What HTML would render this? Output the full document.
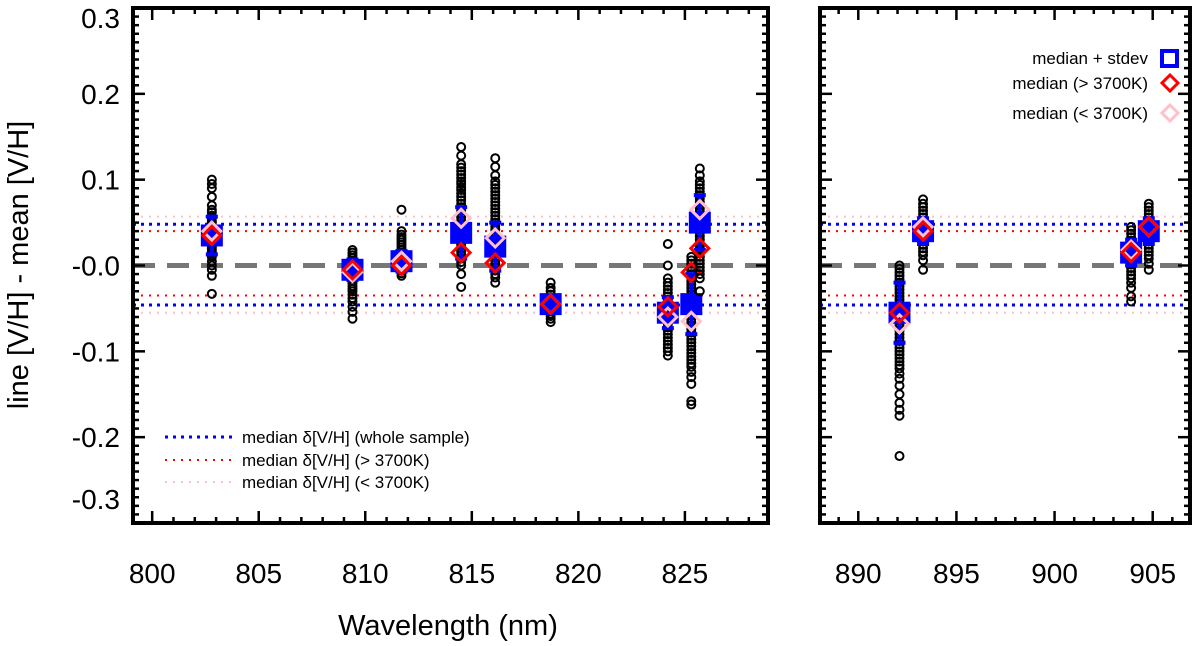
<!DOCTYPE html>
<html><head><meta charset="utf-8"><style>
html,body{margin:0;padding:0;background:#fff;}
svg{display:block;font-family:"Liberation Sans",sans-serif;}
</style></head><body>
<svg id="chart" width="1200" height="646" viewBox="0 0 1200 646">
<g id="grid"></g>
<g id="marks"></g>
<g id="axes"></g>
<text x="448" y="635" text-anchor="middle" font-size="29">Wavelength (nm)</text>
<text transform="translate(28,265) rotate(-90)" text-anchor="middle" font-size="29">line [V/H] - mean [V/H]</text>
<g>
<line x1="165" y1="437" x2="232" y2="437" stroke="#0000ff" stroke-width="3" stroke-dasharray="3,5"/>
<text x="242" y="443" font-size="17">median δ[V/H] (whole sample)</text>
<line x1="165" y1="460" x2="232" y2="460" stroke="#ff0000" stroke-width="2" stroke-dasharray="2,6"/>
<text x="242" y="466" font-size="17">median δ[V/H] (&gt; 3700K)</text>
<line x1="165" y1="482" x2="232" y2="482" stroke="#ffc0cb" stroke-width="2" stroke-dasharray="2,6"/>
<text x="242" y="488" font-size="17">median δ[V/H] (&lt; 3700K)</text>
</g>
<g>
<text x="1148" y="64" font-size="17" text-anchor="end">median + stdev</text>
<rect x="1162" y="51" width="15" height="15" fill="none" stroke="#0000ff" stroke-width="4"/>
<text x="1148" y="89" font-size="17" text-anchor="end">median (&gt; 3700K)</text>
<path d="M1170,75 l8,8 l-8,8 l-8,-8 z" fill="none" stroke="#ff0000" stroke-width="3"/>
<text x="1148" y="119" font-size="17" text-anchor="end">median (&lt; 3700K)</text>
<path d="M1170,105 l8,8 l-8,8 l-8,-8 z" fill="none" stroke="#ffc0cb" stroke-width="3"/>
</g>
</svg>
<script>
const lineWl   = [802.8, 809.4, 811.7, 814.5, 816.1, 818.7, 824.2, 825.3, 825.7, 892.1, 893.3, 903.9, 904.8];
const medAll   = [0.035, -0.005, 0.005, 0.038, 0.022, -0.045, -0.055, -0.045, 0.050, -0.055, 0.040, 0.015, 0.040];
const stdAll   = [0.022, 0.012, 0.012, 0.030, 0.028, 0.008, 0.018, 0.035, 0.032, 0.035, 0.015, 0.015, 0.015];
const medHot   = [0.035, -0.005, 0.000, 0.015, 0.003, -0.045, -0.048, -0.008, 0.020, -0.055, 0.040, 0.015, 0.045];
const medCool  = [0.040, -0.008, 0.005, 0.055, 0.032, -0.045, -0.060, -0.065, 0.065, -0.068, 0.045, 0.018, 0.045];
const scatter = [
 [0.100,0.095,0.090,0.080,0.070,0.065,0.062,0.058,0.055,0.052,0.050,0.047,0.045,0.042,0.040,0.037,0.035,0.032,0.030,0.027,0.025,0.022,0.020,0.017,0.015,0.012,0.010,0.005,0.000,-0.005,-0.012,-0.033],
 [0.018,0.015,0.012,0.009,0.006,0.003,0.000,-0.003,-0.006,-0.009,-0.012,-0.015,-0.018,-0.021,-0.024,-0.027,-0.030,-0.034,-0.038,-0.042,-0.048,-0.054,-0.062],
 [0.065,0.040,0.036,0.033,0.030,0.027,0.024,0.021,0.018,0.015,0.012,0.009,0.006,0.003,0.000,-0.003,-0.006,-0.009,-0.012],
 [0.138,0.128,0.118,0.114,0.110,0.106,0.102,0.098,0.095,0.091,0.088,0.084,0.080,0.076,0.072,0.068,0.064,0.060,0.056,0.052,0.048,0.044,0.040,0.036,0.032,0.028,0.024,0.020,0.016,0.012,0.008,0.004,0.000,-0.010,-0.025],
 [0.125,0.115,0.105,0.098,0.094,0.090,0.086,0.082,0.078,0.074,0.070,0.066,0.062,0.058,0.054,0.050,0.046,0.042,0.038,0.034,0.030,0.026,0.022,0.018,0.014,0.010,0.006,0.002,-0.002,-0.006,-0.010,-0.014,-0.020],
 [-0.020,-0.026,-0.030,-0.034,-0.038,-0.041,-0.044,-0.047,-0.050,-0.053,-0.056,-0.059,-0.062,-0.066],
 [0.025,0.000,-0.015,-0.020,-0.024,-0.028,-0.032,-0.036,-0.040,-0.044,-0.048,-0.052,-0.056,-0.060,-0.064,-0.068,-0.072,-0.076,-0.080,-0.084,-0.088,-0.092,-0.096,-0.100,-0.105],
 [0.010,0.006,0.002,-0.002,-0.006,-0.010,-0.014,-0.018,-0.022,-0.026,-0.030,-0.034,-0.038,-0.042,-0.046,-0.050,-0.054,-0.058,-0.062,-0.066,-0.070,-0.074,-0.078,-0.082,-0.086,-0.090,-0.094,-0.098,-0.102,-0.106,-0.110,-0.114,-0.118,-0.124,-0.130,-0.138,-0.158,-0.162],
 [0.113,0.105,0.098,0.094,0.090,0.086,0.082,0.078,0.074,0.070,0.066,0.062,0.058,0.054,0.050,0.046,0.042,0.038,0.034,0.030,0.026,0.022,0.018,0.014,0.010,0.006,0.002,-0.002,-0.006,-0.010,-0.015,-0.030],
 [0.000,-0.004,-0.008,-0.012,-0.016,-0.020,-0.024,-0.028,-0.032,-0.036,-0.040,-0.044,-0.048,-0.052,-0.056,-0.060,-0.064,-0.068,-0.072,-0.076,-0.080,-0.084,-0.088,-0.092,-0.096,-0.100,-0.104,-0.108,-0.112,-0.116,-0.120,-0.126,-0.132,-0.140,-0.150,-0.160,-0.168,-0.175,-0.222],
 [0.077,0.072,0.068,0.064,0.060,0.056,0.052,0.048,0.044,0.040,0.036,0.032,0.028,0.024,0.020,0.016,0.012,0.006,-0.005],
 [0.045,0.041,0.037,0.033,0.029,0.025,0.021,0.017,0.013,0.009,0.005,0.001,-0.003,-0.007,-0.011,-0.015,-0.020,-0.026,-0.036,-0.042],
 [0.072,0.068,0.064,0.060,0.056,0.052,0.048,0.044,0.040,0.036,0.032,0.028,0.024,0.020,0.016,0.012,0.008,0.002,-0.005]
];
const refLines = [
 {v:0.048,c:"#0000ff",w:3,d:"3,5"},{v:-0.046,c:"#0000ff",w:3,d:"3,5"},
 {v:0.040,c:"#ff0000",w:2,d:"2,6"},{v:-0.035,c:"#ff0000",w:2,d:"2,6"},
 {v:0.057,c:"#ffc0cb",w:2,d:"2,6"},{v:-0.055,c:"#ffc0cb",w:2,d:"2,6"}
];
const yTicks = [0.3,0.2,0.1,0.0,-0.1,-0.2,-0.3];
const yTickLabels = ["0.3","0.2","0.1","-0.0","-0.1","-0.2","-0.3"];
const leftXTicks = [800,805,810,815,820,825];
const rightXTicks = [890,895,900,905];

const NS="http://www.w3.org/2000/svg";
const plotTop=8, plotBot=523;
const panels=[{x0:133,x1:768,d0:799.1,d1:828.9,ticks:leftXTicks,left:true},
              {x0:820,x1:1190,d0:888.05,d1:906.9,ticks:rightXTicks,left:false}];
function Y(v){return plotTop+(0.3-v)/0.6*(plotBot-plotTop);}
function mk(tag,attrs,parent){const e=document.createElementNS(NS,tag);for(const k in attrs)e.setAttribute(k,attrs[k]);parent.appendChild(e);return e;}
const gridG=document.getElementById('grid'), marksG=document.getElementById('marks'), axesG=document.getElementById('axes');
panels.forEach((p,pi)=>{
  const X=w=>p.x0+(w-p.d0)/(p.d1-p.d0)*(p.x1-p.x0);
  refLines.forEach(r=>{const l=mk('line',{x1:p.x0,x2:p.x1,y1:Y(r.v),y2:Y(r.v),stroke:r.c,'stroke-width':r.w,'stroke-dasharray':r.d},gridG);
    
    });
  const z=mk('line',{x1:p.x0,x2:p.x1,y1:Y(0),y2:Y(0),stroke:'#777','stroke-width':5,'stroke-dasharray':'22,12'},gridG);
  
  
  lineWl.forEach((w,i)=>{
    if(w<p.d0||w>p.d1) return;
    const g=mk('g',{},marksG);
    
    
    const x=X(w);
    scatter[i].forEach(v=>{const c=mk('circle',{cx:x,cy:Y(v),r:4,fill:'none',stroke:'#000','stroke-width':2},g);
      
      });
    const ya=Y(medAll[i]+stdAll[i]), yb=Y(medAll[i]-stdAll[i]);
    const eb=mk('path',{d:`M${x},${ya}V${yb}M${x-6},${ya}H${x+6}M${x-6},${yb}H${x+6}`,stroke:'#0000ff','stroke-width':4,fill:'none'},g);
    
    
    const sq=mk('rect',{x:x-11,y:Y(medAll[i])-11,width:22,height:22,fill:'#0000ff'},g);
    
    
    [[medCool[i],'#ffc0cb','median-cool-diamond'],[medHot[i],'#ff0000','median-hot-diamond']].forEach(([v,c,n])=>{
      const y=Y(v);
      const d=mk('path',{d:`M${x},${y-9}l9,9l-9,9l-9,-9z`,fill:'none',stroke:c,'stroke-width':3},g);
      
      
    });
  });
  const f=mk('rect',{x:p.x0,y:plotTop,width:p.x1-p.x0,height:plotBot-plotTop,fill:'none',stroke:'#000','stroke-width':4},axesG);
  
  
  for(let k=-30;k<=30;k++){const v=k/100,y=Y(v),len=(k%10===0)?12:6;
    mk('line',{x1:p.x0,x2:p.x0+len,y1:y,y2:y,stroke:'#000','stroke-width':2.5},axesG);
    mk('line',{x1:p.x1,x2:p.x1-len,y1:y,y2:y,stroke:'#000','stroke-width':2.5},axesG);}
  for(let w=Math.ceil(p.d0);w<=p.d1;w++){const x=X(w),len=(w%5===0)?12:6;
    mk('line',{x1:x,x2:x,y1:plotBot,y2:plotBot-len,stroke:'#000','stroke-width':2.5},axesG);
    mk('line',{x1:x,x2:x,y1:plotTop,y2:plotTop+len,stroke:'#000','stroke-width':2.5},axesG);}
  p.ticks.forEach(w=>{const t=mk('text',{x:X(w),y:583,'text-anchor':'middle','font-size':28},axesG);t.textContent=w;
    
    });
  if(p.left){yTicks.forEach((v,i)=>{let y=Y(v)+10;if(v===0.3)y=Y(v)+20;if(v===-0.3)y=Y(v)-14;
    const t=mk('text',{x:120,y:y,'text-anchor':'end','font-size':28},axesG);t.textContent=yTickLabels[i];
    
    });}
});
</script>
</body></html>
